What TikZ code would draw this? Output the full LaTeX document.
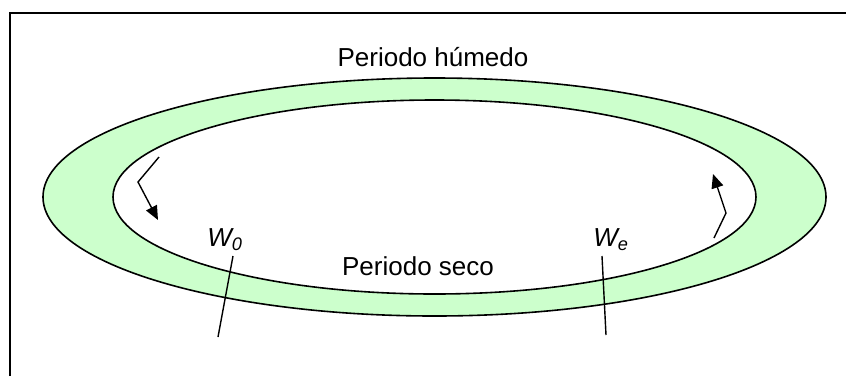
\documentclass[tikz,border=0pt]{standalone}
\usepackage{fontspec}
\setmainfont{Liberation Sans}
\usetikzlibrary{shapes.geometric,arrows.meta}

\definecolor{verdeclaro}{RGB}{204,255,204}

\newcommand{\Marca}[4]{
\coordinate (#1a) at #2;
\coordinate (#1b) at #3;
\draw[Tick] (#1a) -- (#1b);
\node[Label] at #4 {\itshape W\textsubscript{#1}};
}
\tikzset{every node/.style={font=\fontsize{26}{30}\selectfont}}
\tikzset{Anillo/.style={draw,black,ellipse,line width=1.6pt,inner sep=0pt}}
\tikzset{Tick/.style={black,line width=1.4pt}}
\tikzset{Label/.style={inner sep=0pt}}
\tikzset{Flecha/.style={black,line width=1.4pt,-{Triangle[length=14pt,width=12pt]}}}

\begin{document}
\begin{tikzpicture}[x=1pt,y=-1pt]
\useasboundingbox (0,0) rectangle (846,376);

\draw[line width=2pt] (10,376) -- (10,13) -- (846,13);

\node[Anillo,fill=verdeclaro,minimum width=783pt,minimum height=238pt] (exterior) at (434.5,197) {};
\node[Anillo,fill=white,minimum width=643pt,minimum height=194pt] (interior) at (434.5,197) {};

\node[Label] (humedo) at (433,57) {Periodo húmedo};
\node[Label] (seco) at (418,266) {Periodo seco};

\Marca{0}{(233,256)}{(218,337)}{(225,240)}
\Marca{e}{(602,256)}{(606,335)}{(611,240)}

\coordinate (izq1) at (159,157);
\coordinate (izq2) at (138,182);
\coordinate (izq3) at (158,220);
\draw[Flecha] (izq1) -- (izq2) -- (izq3);

\coordinate (der1) at (714,238);
\coordinate (der2) at (726,213);
\coordinate (der3) at (713,174);
\draw[Flecha] (der1) -- (der2) -- (der3);

\end{tikzpicture}
\end{document}
